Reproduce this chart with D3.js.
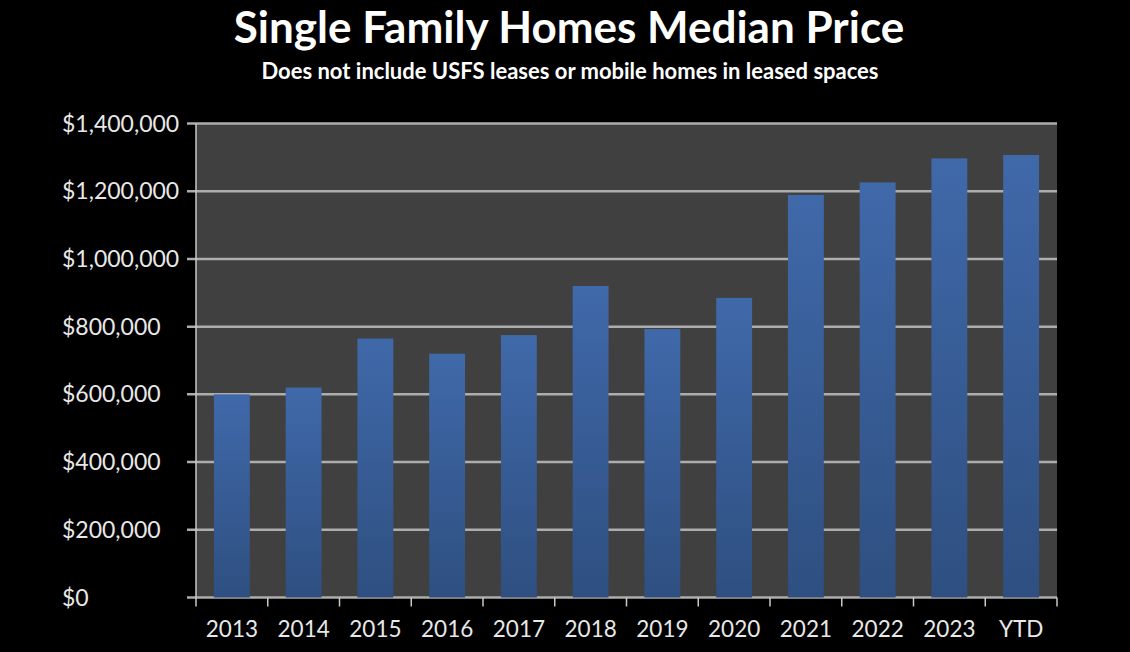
<!DOCTYPE html>
<html>
<head>
<meta charset="utf-8">
<script src="https://cdn.jsdelivr.net/npm/d3@7"></script>
<style>
  html, body { margin: 0; padding: 0; background: #000; }
  svg { display: block; }
</style>
</head>
<body>
<div class="chart"></div>
<script>
// --- Data ---
const years = ["2013", "2014", "2015", "2016", "2017", "2018", "2019", "2020", "2021", "2022", "2023", "YTD"];
const medianPrice = [600000, 620000, 765000, 720000, 775000, 920000, 793000, 885000, 1189000, 1226000, 1297000, 1307000];
const yTicks = [0, 200000, 400000, 600000, 800000, 1000000, 1200000, 1400000];

const viewW = 1130;
const viewH = 652;
const margin = { top: 123.5, right: 73, bottom: 54.5, left: 196 };
const font = "Lato, 'Open Sans', sans-serif";

const svg = d3.select(".chart")
    .append("svg")
    .attr("width", viewW)
    .attr("height", viewH)
    .style("background", "#000");

const x = d3.scaleBand()
    .domain(years)
    .range([margin.left, viewW - margin.right])
    .paddingInner(0.5)
    .paddingOuter(0.25);

const y = d3.scaleLinear()
    .domain([0, 1400000])
    .range([viewH - margin.bottom, margin.top]);

// bar gradient
const grad = svg.append("defs")
    .append("linearGradient")
    .attr("id", "barGrad")
    .attr("x1", "0%").attr("y1", "0%")
    .attr("x2", "0%").attr("y2", "100%");
grad.append("stop").attr("offset", "0%").attr("stop-color", "#4069aa");
grad.append("stop").attr("offset", "100%").attr("stop-color", "#2e4f80");

// plot background
svg.append("rect")
    .attr("x", margin.left)
    .attr("y", margin.top)
    .attr("width", viewW - margin.right - margin.left)
    .attr("height", y(0) - margin.top)
    .attr("fill", "#404040");

// gridlines
svg.append("g")
    .selectAll("line")
    .data(yTicks)
    .join("line")
    .attr("x1", margin.left - 9)
    .attr("x2", viewW - margin.right)
    .attr("y1", d => y(d))
    .attr("y2", d => y(d))
    .attr("stroke", "#adadad")
    .attr("stroke-width", 2.5);

// bars
svg.append("g")
    .selectAll("rect")
    .data(medianPrice)
    .join("rect")
    .attr("x", (d, i) => x(years[i]))
    .attr("y", d => y(d))
    .attr("width", x.bandwidth())
    .attr("height", d => y(0) - y(d))
    .attr("fill", "url(#barGrad)");

// y axis line
svg.append("line")
    .attr("x1", margin.left).attr("x2", margin.left)
    .attr("y1", margin.top).attr("y2", y(0) + 9)
    .attr("stroke", "#c8c8c8")
    .attr("stroke-width", 1.5);

// x axis labels
const xAxis = d3.axisBottom(x).tickSize(0).tickPadding(24);
const gx = svg.append("g")
    .attr("transform", `translate(0,${y(0)})`)
    .call(xAxis);
gx.select(".domain").remove();
gx.selectAll("text")
    .style("font-family", font)
    .style("font-size", "22.5px")
    .style("fill", "#e8e8e8");

// x ticks at band boundaries
const step = x.step();
svg.append("g")
    .selectAll("line")
    .data(years)
    .join("line")
    .attr("x1", d => x(d) - x.bandwidth() / 2 + step)
    .attr("x2", d => x(d) - x.bandwidth() / 2 + step)
    .attr("y1", y(0))
    .attr("y2", y(0) + 9)
    .attr("stroke", "#c8c8c8")
    .attr("stroke-width", 1.5);

// y labels, left aligned
const fmt = d => "$" + d3.format(",")(d);
svg.append("g")
    .selectAll("text")
    .data(yTicks)
    .join("text")
    .attr("x", 62)
    .attr("y", d => y(d))
    .attr("dy", "0.35em")
    .style("font-family", font)
    .style("font-size", "23px")
    .style("fill", "#e8e8e8")
    .text(fmt);

// titles
svg.append("text")
    .attr("x", 569)
    .attr("y", 43)
    .attr("text-anchor", "middle")
    .style("font-family", font)
    .style("font-weight", "bold")
    .style("font-size", "44px")
    .style("fill", "#fff")
    .text("Single Family Homes Median Price");

svg.append("text")
    .attr("x", 570)
    .attr("y", 79)
    .attr("text-anchor", "middle")
    .style("font-family", font)
    .style("font-weight", "bold")
    .style("font-size", "22px")
    .style("fill", "#fff")
    .text("Does not include USFS leases or mobile homes in leased spaces");
</script>
</body>
</html>
